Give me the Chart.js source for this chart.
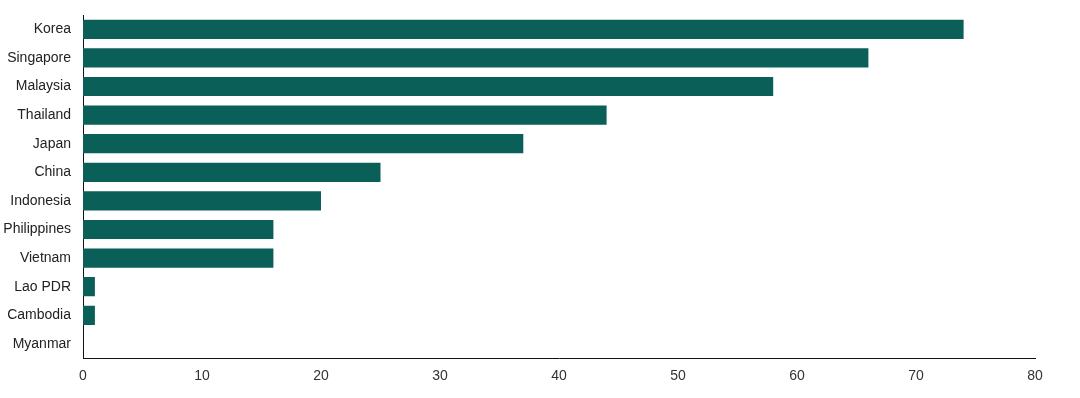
<!DOCTYPE html>
<html>
<head>
<meta charset="utf-8">
<script src="https://cdn.jsdelivr.net/npm/chart.js@4/dist/chart.umd.min.js"></script>
<style>
html,body{margin:0;padding:0;background:#fff;}
#wrap{width:1080px;height:398px;position:relative;}
</style>
</head>
<body>
<div id="wrap"><canvas id="c" width="1080" height="398"></canvas></div>
<script>
const categories = ["Korea","Singapore","Malaysia","Thailand","Japan","China","Indonesia","Philippines","Vietnam","Lao PDR","Cambodia","Myanmar"];
const values = [74,66,58,44,37,25,20,16,16,1,1,0];
const xTicks = [0,10,20,30,40,50,60,70,80];

new Chart(document.getElementById('c'), {
  type: 'bar',
  data: {
    labels: categories,
    datasets: [{
      data: values,
      backgroundColor: '#0a5f58',
      borderWidth: 0,
      barPercentage: 0.67,
      categoryPercentage: 1.0
    }]
  },
  options: {
    indexAxis: 'y',
    responsive: false,
    animation: false,
    layout: { padding: { top: 15, right: 45, bottom: 3, left: 0 } },
    plugins: { legend: { display: false }, tooltip: { enabled: false } },
    scales: {
      x: {
        min: 0, max: 80,
        afterBuildTicks: (s) => { s.ticks = xTicks.map(v => ({ value: v })); },
        grid: { display: false, drawTicks: false, tickLength: 0 },
        border: { display: true, color: '#111', width: 1 },
        ticks: { padding: 10, color: '#333', font: { family: 'Liberation Sans, Arial, sans-serif', size: 14 } }
      },
      y: {
        afterFit: (s) => { s.width = 83; s.paddingTop = 0; s.paddingBottom = 0; },
        grid: { display: false, drawTicks: false, tickLength: 0 },
        border: { display: true, color: '#111', width: 1 },
        ticks: { padding: 12, color: '#222', font: { family: 'Liberation Sans, Arial, sans-serif', size: 14 } }
      }
    }
  }
});
</script>
</body>
</html>
